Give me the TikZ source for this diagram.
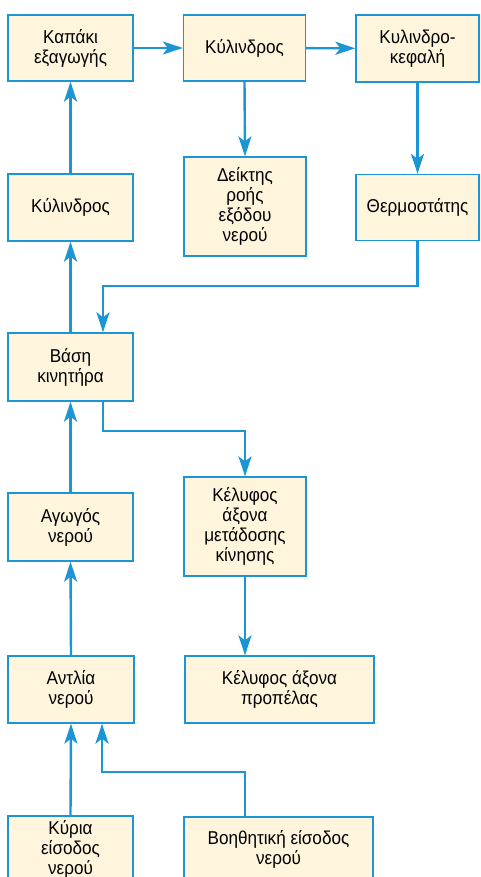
\documentclass[tikz,border=0pt]{standalone}
\usepackage{fontspec}
\setmainfont[FakeStretch=0.92]{Liberation Sans}
\usepackage{tikz}
\usetikzlibrary{arrows.meta}
\definecolor{boxblue}{RGB}{27,149,211}
\definecolor{boxfill}{RGB}{254,245,220}
\tikzset{%
  flowarrow/.style = {-{Stealth[length=20pt,width=13pt,inset=5pt]},
        boxblue,line width=2.4pt},
  b/.style = {rectangle,draw=boxblue,fill=boxfill,line width=1.3pt,
        align=center,inner sep=1pt,
        font=\fontsize{18.6}{20}\selectfont}
}
\begin{document}
\begin{tikzpicture}[x=1pt,y=-1pt]
\useasboundingbox (0,0) rectangle (480,877);
\clip (0,0) rectangle (480,877);
% top row
\node[b,minimum width=125pt,minimum height=66pt] (kapaki) at (70.5,48) {Καπάκι\\εξαγωγής};
\node[b,minimum width=122pt,minimum height=66pt] (kyl) at (244.5,48) {Κύλινδρος};
\node[b,minimum width=123pt,minimum height=67pt] (kefali) at (417.5,48.5) {Κυλινδρο-\\κεφαλή};
% second row
\node[b,minimum width=125pt,minimum height=67pt] (kylL) at (70.5,207.5) {Κύλινδρος};
\node[b,minimum width=122pt,minimum height=99pt] (deiktis) at (245,206.5) {Δείκτης\\ροής\\εξόδου\\νερού};
\node[b,minimum width=123pt,minimum height=66pt] (thermo) at (417.5,207.5) {Θερμοστάτης};
% engine base
\node[b,minimum width=125pt,minimum height=68pt] (vasi) at (70.5,367) {Βάση\\κινητήρα};
% fourth row
\node[b,minimum width=125pt,minimum height=68pt] (agogos) at (70.5,527) {Αγωγός\\νερού};
\node[b,minimum width=122pt,minimum height=99pt] (metadosi) at (245,526.5) {Κέλυφος\\άξονα\\μετάδοσης\\κίνησης};
% pump row
\node[b,minimum width=126pt,minimum height=67pt] (antlia) at (71,689.5) {Αντλία\\νερού};
\node[b,minimum width=189pt,minimum height=67pt] (propelas) at (279.5,689.5) {Κέλυφος άξονα\\προπέλας};
% inlets
\node[b,minimum width=125pt,minimum height=66pt] (kyria) at (70.5,849) {Κύρια\\είσοδος\\νερού};
\node[b,minimum width=189pt,minimum height=64pt] (voith) at (278.5,849) {Βοηθητική είσοδος\\νερού};
% junctions
\coordinate (j1) at (103,286);
\coordinate (j2) at (103,431);
\coordinate (j3) at (102,772);
% connectors
\draw[flowarrow] (kapaki) -- (kyl);
\draw[flowarrow] (kyl) -- (kefali);
\draw[flowarrow] (kyl.south) -- (deiktis.north);
\draw[flowarrow] (kefali.south) -- (thermo.north);
\draw[flowarrow] (kylL.north) -- (kapaki.south);
\draw[flowarrow] (thermo.south) |- (j1) -- (j1 |- vasi.north);
\draw[flowarrow] (vasi.north) -- (kylL.south);
\draw[flowarrow] (j2 |- vasi.south) |- (j2 -| metadosi.north) -- (metadosi.north);
\draw[flowarrow] (agogos.north) -- (vasi.south);
\draw[flowarrow] (metadosi.south) -- (metadosi.south |- propelas.north);
\draw[flowarrow] (antlia.north) -- (agogos.south);
\draw[flowarrow] (kyria.north) -- (antlia.south);
\draw[flowarrow] (voith.north -| metadosi.south) |- (j3) -- (j3 |- antlia.south);
\end{tikzpicture}
\end{document}
